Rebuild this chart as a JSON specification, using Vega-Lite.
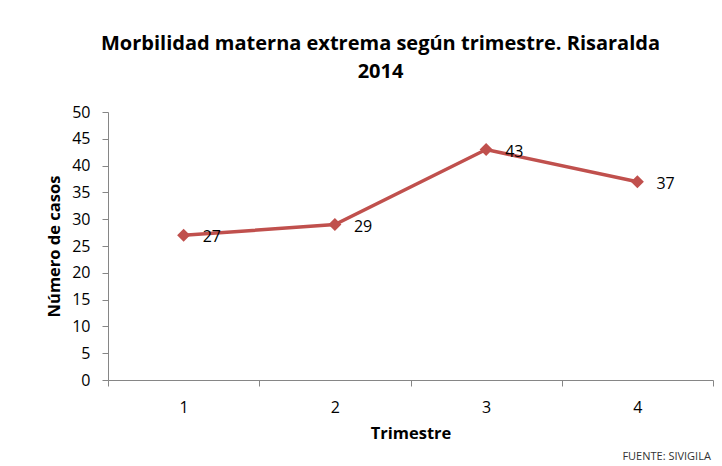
{
  "$schema": "https://vega.github.io/schema/vega-lite/v6.json",
  "width": 605,
  "height": 268,
  "autosize": {"type": "none"},
  "padding": {"left": 108, "top": 112, "right": 9, "bottom": 86},
  "background": "white",
  "config": {
    "view": {"stroke": null},
    "font": "Open Sans"
  },
  "title": {
    "text": ["Morbilidad materna extrema según trimestre. Risaralda", "2014"],
    "font": "Open Sans",
    "fontSize": 20,
    "fontWeight": "bold",
    "color": "#000000",
    "lineHeight": 28,
    "anchor": "middle",
    "frame": "group",
    "dx": -30,
    "offset": 22
  },
  "data": {
    "values": [
      {"trimestre": "1", "casos": 27},
      {"trimestre": "2", "casos": 29},
      {"trimestre": "3", "casos": 43},
      {"trimestre": "4", "casos": 37}
    ]
  },
  "encoding": {
    "x": {
      "field": "trimestre",
      "type": "ordinal",
      "scale": {"type": "band", "paddingInner": 0, "paddingOuter": 0},
      "axis": {
        "title": "Trimestre",
        "titleFont": "Open Sans",
        "titleFontSize": 16.5,
        "titleFontWeight": "bold",
        "titleColor": "#000000",
        "titlePadding": 10,
        "labelAngle": 0,
        "labelFont": "Open Sans",
        "labelFontSize": 16,
        "labelColor": "#000000",
        "labelPadding": 13,
        "bandPosition": 0,
        "tickBand": "extent",
        "tickSize": 6,
        "tickColor": "#868686",
        "domainColor": "#868686",
        "grid": false
      }
    },
    "y": {
      "field": "casos",
      "type": "quantitative",
      "scale": {"domain": [0, 50]},
      "axis": {
        "title": "Número de casos",
        "titleFont": "Open Sans",
        "titleFontSize": 16.5,
        "titleFontWeight": "bold",
        "titleColor": "#000000",
        "titlePadding": 9,
        "values": [0, 5, 10, 15, 20, 25, 30, 35, 40, 45, 50],
        "labelFont": "Open Sans",
        "labelFontSize": 16,
        "labelColor": "#000000",
        "labelPadding": 12,
        "tickSize": 6,
        "tickColor": "#868686",
        "domainColor": "#868686",
        "grid": false
      }
    }
  },
  "layer": [
    {
      "mark": {"type": "line", "color": "#C0504D", "strokeWidth": 3.5}
    },
    {
      "mark": {"type": "point", "shape": "diamond", "filled": true, "color": "#C0504D", "size": 170, "opacity": 1}
    },
    {
      "mark": {"type": "text", "align": "left", "baseline": "middle", "dx": 19, "dy": 2, "fontSize": 16, "font": "Open Sans", "color": "#000000"},
      "encoding": {"text": {"field": "casos", "type": "quantitative"}}
    },
    {
      "data": {"values": [{"nota": "FUENTE: SIVIGILA", "trimestre": "4", "pos": -14.4}]},
      "mark": {"type": "text", "align": "left", "baseline": "middle", "dx": -15, "fontSize": 11, "font": "Open Sans", "color": "#333333"},
      "encoding": {
        "x": {"field": "trimestre", "type": "ordinal"},
        "y": {"field": "pos", "type": "quantitative"},
        "text": {"field": "nota", "type": "nominal"}
      }
    }
  ]
}
